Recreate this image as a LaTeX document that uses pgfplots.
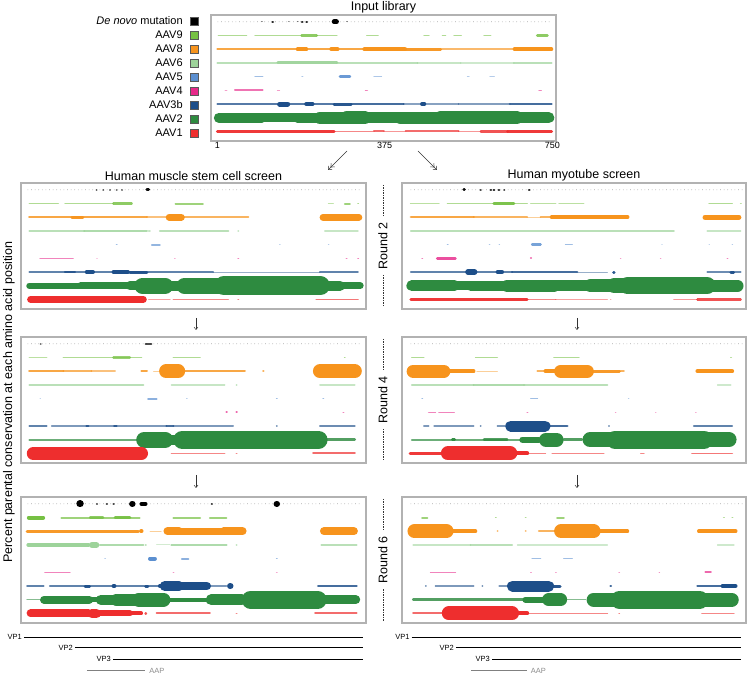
\documentclass[border=0pt]{standalone}
\usepackage{fontspec}
\setmainfont{Liberation Sans}
\usepackage{pgfplots}
\pgfplotsset{compat=1.18}
\usetikzlibrary{arrows.meta}

\definecolor{c9}{HTML}{76C043}
\definecolor{c8}{HTML}{F7941D}
\definecolor{c6}{HTML}{9DD39A}
\definecolor{c5}{HTML}{5B8FD0}
\definecolor{c4}{HTML}{E7298A}
\definecolor{c3}{HTML}{1D4E89}
\definecolor{c2}{HTML}{2E8B40}
\definecolor{c1}{HTML}{EE2E2E}

% rows: 9 de novo, 8 AAV9, 7 AAV8, 6 AAV6, 5 AAV5, 4 AAV4, 3 AAV3b, 2 AAV2, 1 AAV1
% each band row: start end width(pt)
\pgfplotsset{
  panel/.style={scale only axis, width=345pt, height=126pt,
    xmin=-13.5, xmax=758, ymin=0.3, ymax=9.5,
    xtick=\empty, ytick=\empty,
    axis line style={black!30, line width=1.1pt},
    clip=false, point meta min=0, point meta max=20, anchor=north west,
    title style={at={(0.5,1)}, anchor=south, inner sep=0pt, yshift=-4pt,
      font=\fontsize{12.5}{14}\selectfont}},
  rpanel/.style={panel, xmin=-18, xmax=754, width=344pt},
  band/.style={forget plot, line cap=round,
    quiver={u=\thisrowno{1}-\thisrowno{0}, v=0,
      every arrow/.append style={
        /utils/exec={\pgfmathsetmacro\lw{\pgfplotspointmetatransformed/50}%
          \pgfmathsetmacro\lop{min(1,0.2+0.25*\lw)}},
        line width=\lw*1pt, draw opacity=\lop}},
    point meta=\thisrowno{2}},
}
\newcommand\band[3]{\addplot[band,#1] table[header=false, x index=0, y expr=#2, row sep=\\] {#3};}
\newcommand\bgdots{\addplot[forget plot, black!45, line width=0.8pt, line cap=round,
  dash pattern=on 0pt off 3.6pt] coordinates {(2,9) (748,9)};}
\newcommand\vp[4]{\addplot[forget plot, #4, line width=0.9pt] coordinates {(#1,#3) (#2,#3)};}

\begin{document}
\begin{tikzpicture}
\useasboundingbox (0,0) rectangle (748pt,-676pt);

% ---------------- input library
\begin{axis}[panel, at={(211pt,-15pt)}, title={Input library},
  xtick={1,375,750}, xticklabels={1,375,750}, major tick length=0pt,
  xticklabel style={font=\fontsize{9}{10}\selectfont, inner sep=1pt},
  legend style={at={(axis description cs:-0.035,1.006)}, anchor=north east,
    draw=none, fill=none, inner sep=0pt, row sep=0pt, column sep=7pt,
    font=\fontsize{11}{12}\selectfont,
    nodes={inner sep=0pt, text height=10pt, text depth=4pt}},
  legend cell align=right, legend plot pos=right,
  legend image code/.code={\draw[#1, draw=black!65, line width=0.6pt] (0pt,-4pt) rectangle (8.5pt,4pt);}]
\addlegendimage{fill=black}\addlegendentry{\textit{De novo} mutation}
\addlegendimage{fill=c9}\addlegendentry{AAV9}
\addlegendimage{fill=c8}\addlegendentry{AAV8}
\addlegendimage{fill=c6}\addlegendentry{AAV6}
\addlegendimage{fill=c5}\addlegendentry{AAV5}
\addlegendimage{fill=c4}\addlegendentry{AAV4}
\addlegendimage{fill=c3}\addlegendentry{AAV3b}
\addlegendimage{fill=c2}\addlegendentry{AAV2}
\addlegendimage{fill=c1}\addlegendentry{AAV1}
\bgdots
\band{black}{9}{124 125 2.5\\190 191 2.5\\200 201 2.5\\262 267 5\\100 101 1.2\\160 161 1.2\\180 181 1.2\\290 291 1.2\\}
\band{c9}{8}{3 66 1.5\\85 189 1.5\\189 223 2.5\\223 268 1.5\\335 360 1.5\\463 474 1.5\\504 511 1.5\\530 546 1.5\\597 612 1.5\\716 739 2.5\\}
\band{c8}{7}{1 180 2.5\\180 200 3.5\\200 255 2.5\\255 270 3.5\\270 330 2.5\\330 420 4.5\\420 500 3\\500 665 1.8\\665 748 3.5\\}
\band{c6}{6}{1 136 2\\136 268 3\\268 448 2\\448 545 1.5\\545 664 1.2\\664 748 2\\}
\band{c5}{5}{85 102 1.5\\190 192 1.2\\275 297 2.8\\351 368 1.2\\560 564 1\\610 620 1\\}
\band{c4}{4}{18 22 1\\40 102 1.8\\135 140 1\\332 336 1.5\\720 725 1.5\\}
\band{c3}{3}{1 140 2.2\\140 158 5\\158 200 2.2\\200 213 4.5\\213 262 2.2\\262 300 3\\300 417 2.5\\417 540 1.3\\458 464 3.5\\540 655 1.4\\655 748 2.5\\}
\band{c2}{2}{4 100 10\\100 180 9\\180 230 10\\230 290 12\\290 330 13\\330 410 11\\410 500 12\\500 670 13\\670 742 11\\}
\band{c1}{1}{1 262 3\\262 351 1.5\\351 373 2\\373 422 1.2\\422 540 2\\540 590 1.2\\590 650 2.5\\650 748 3\\}
\end{axis}

% ---------------- muscle stem cell, round 2
\begin{axis}[panel, at={(21pt,-183pt)}, title={Human muscle stem cell screen}]
\bgdots
\band{black}{9}{155 156 1.5\\170 171 1.5\\185 186 1.5\\200 201 1.5\\212 213 1.5\\268 272 3\\}
\band{c9}{8}{5 70 1.5\\85 193 1.5\\193 234 2.5\\332 393 2\\674 685 1\\711 722 2\\740 741 1.5\\}
\band{c8}{7}{5 268 2.5\\100 125 3\\268 312 1.5\\318 345 7\\345 495 2\\662 742 7\\}
\band{c6}{6}{5 128 2\\128 268 2.5\\272 275 1.5\\297 450 2\\472 473 1.5\\666 740 1.5\\}
\band{c5}{5}{200 201 1.5\\279 297 1.8\\565 566 1\\674 675 1\\}
\band{c4}{4}{29 103 1.5\\156 157 1\\330 331 1\\472 473 1.5\\714 715 1.5\\740 741 1.5\\}
\band{c3}{3}{5 416 2\\85 107 2.5\\133 148 3.5\\193 226 3.5\\230 268 3\\416 655 1\\655 740 2\\}
\band{c2}{2}{5 120 6\\120 230 7\\230 250 9\\258 309 16\\318 343 10\\352 440 16\\440 656 19\\650 700 10\\700 745 7\\}
\band{c1}{1}{8 260 7\\272 320 1\\327 450 1.5\\472 473 1.5\\647 740 1.8\\}
\end{axis}

% ---------------- myotube, round 2
\begin{axis}[rpanel, at={(402pt,-183pt)}, title={Human myotube screen}]
\bgdots
\band{black}{9}{121 122 3\\158 159 2\\181 182 2.5\\188 189 2.5\\199 200 2.5\\211 212 2\\267 268 2.5\\}
\band{c9}{8}{1 65 1.2\\84 188 1.5\\188 233 3\\233 263 1.5\\271 327 1.2\\334 390 1.2\\671 723 1.5\\742 743 1.5\\}
\band{c8}{7}{2 143 2.5\\143 263 2\\263 293 1\\293 315 2\\318 488 4\\662 738 5\\}
\band{c6}{6}{2 592 2\\667 742 1.5\\}
\band{c5}{5}{84 85 1.5\\178 179 1.2\\200 201 1.2\\274 293 2.5\\349 364 1.5\\565 566 1\\671 672 1\\723 724 1\\}
\band{c4}{4}{27 28 1.5\\61 102 2.5\\271 272 2\\472 473 1\\562 563 1\\712 713 1.5\\}
\band{c3}{3}{2 229 2\\130 145 5.5\\197 206 4.5\\229 375 2.5\\375 443 1\\457 458 3\\667 742 1.8\\720 726 3\\}
\band{c2}{2}{4 100 11\\100 136 9\\136 218 10\\218 323 12\\323 405 11\\405 458 13\\458 488 15\\488 667 17\\667 735 12\\}
\band{c1}{1}{2 263 3\\263 327 1.5\\327 443 1\\450 451 1\\592 645 1.2\\645 742 2.5\\}
\end{axis}

% ---------------- muscle stem cell, round 4
\begin{axis}[panel, at={(21pt,-337pt)}]
\bgdots
\band{black}{9}{30 31 1.5\\265 278 2\\}
\band{c9}{8}{5 44 1.2\\81 256 1.5\\193 230 2.2\\327 387 1.5\\710 711 1.5\\}
\band{c8}{7}{5 81 2.5\\81 144 2\\144 197 1.5\\256 268 2.5\\283 297 1\\311 338 14\\353 487 2.5\\528 529 2\\655 733 14\\}
\band{c6}{6}{5 260 2\\323 442 1.5\\468 469 1.5\\655 733 1.5\\}
\band{c5}{5}{29 30 1\\271 290 2\\357 358 1.2\\558 559 1.5\\662 663 1.5\\}
\band{c4}{4}{446 447 2\\468 469 2\\707 708 1.5\\}
\band{c3}{3}{5 44 2\\55 312 1.5\\133 137 2.5\\195 200 2.5\\312 327 2.5\\327 461 1.5\\558 559 1.5\\655 733 1.8\\}
\band{c2}{2}{5 245 2\\262 309 16\\316 338 10\\347 652 18\\652 733 2.5\\}
\band{c1}{1}{14 256 13\\323 442 1.5\\468 469 1.5\\640 733 2\\}
\end{axis}

% ---------------- myotube, round 4
\begin{axis}[rpanel, at={(402pt,-337pt)}]
\bgdots
\band{c9}{8}{4 31 1.5\\147 196 1.5\\323 379 1.5\\720 721 1.5\\}
\band{c8}{7}{7 76 13\\76 143 3.5\\150 196 1\\286 304 2\\304 330 4\\338 398 13\\398 470 3\\470 480 2\\645 723 4\\}
\band{c6}{6}{4 143 2\\143 256 2.5\\256 443 2\\690 720 1.2\\}
\band{c5}{5}{27 28 1.5\\271 286 1.5\\490 491 1\\}
\band{c4}{4}{42 57 1.5\\65 99 1.5\\263 264 1.5\\461 462 1\\551 552 1\\641 642 1\\}
\band{c3}{3}{31 42 1.5\\54 143 1.5\\158 159 1.5\\196 213 1.5\\226 303 11\\315 353 2.5\\446 447 1.5\\637 723 2\\}
\band{c2}{2}{4 252 2\\95 100 3\\166 218 2.5\\252 289 6\\305 329 14\\345 386 2.5\\404 460 15\\460 660 18\\660 716 15\\}
\band{c1}{1}{0 69 3\\85 225 14\\241 263 4\\263 304 1.5\\319 435 1.5\\518 525 1.5\\633 723 1.8\\}
\end{axis}

% ---------------- muscle stem cell, round 6
\begin{axis}[panel, at={(21pt,-497pt)}]
\bgdots
\band{black}{9}{118 119 7\\235 236 6\\256 265 4\\558 559 6\\156 157 2\\178 179 2\\193 194 2\\413 414 2\\}
\band{c9}{8}{4 36 4\\77 252 2\\141 170 2.5\\197 230 3\\327 387 2\\409 446 2\\}
\band{c8}{7}{0 249 3\\255 256 4\\275 300 1\\314 340 8\\340 440 7\\440 482 8\\664 731 8\\}
\band{c6}{6}{3 137 4\\145 155 6\\163 260 2.5\\265 266 2\\290 319 1\\323 446 2.5\\468 469 1.5\\658 737 2\\}
\band{c5}{5}{174 175 1.2\\275 286 4\\346 361 2\\558 559 1.5\\}
\band{c4}{4}{40 96 1.5\\327 328 1.2\\558 559 1.2\\}
\band{c3}{3}{0 37 2\\51 297 2\\130 140 3\\193 196 3.5\\265 270 3\\297 312 4\\308 340 10\\340 402 8.5\\400 446 1.5\\454 455 6\\651 737 2.5\\}
\band{c2}{2}{0 29 1.5\\38 139 8\\139 165 5\\165 200 10\\200 250 12\\250 305 14\\305 330 4\\330 400 4\\412 480 11\\500 650 18\\650 735 9\\}
\band{c1}{1}{8 137 8\\145 155 9.5\\163 230 6\\230 255 4\\265 266 2.5\\290 409 2\\468 469 1.5\\644 737 2\\}
\vp{-6.8}{751}{-0.72}{black}
\vp{107}{751}{-1.52}{black}
\vp{192}{751}{-2.33}{black}
\vp{134}{264}{-3.2}{black!50}
\node[anchor=east, font=\fontsize{7.5}{8}\selectfont, inner sep=2pt] at (axis cs:-6.8,-0.72) {VP1};
\node[anchor=east, font=\fontsize{7.5}{8}\selectfont, inner sep=2pt] at (axis cs:107,-1.52) {VP2};
\node[anchor=east, font=\fontsize{7.5}{8}\selectfont, inner sep=2pt] at (axis cs:192,-2.33) {VP3};
\node[anchor=west, font=\fontsize{7.5}{8}\selectfont, inner sep=4pt, text=black!45] at (axis cs:264,-3.2) {AAP};
\end{axis}

% ---------------- myotube, round 6
\begin{axis}[rpanel, at={(402pt,-497pt)}]
\bgdots
\band{c9}{8}{27 39 2\\192 193 1.5\\259 260 1.5\\330 345 2\\704 705 1.5\\723 724 1.5\\}
\band{c8}{7}{10 82 14\\82 147 3.5\\196 197 1.5\\259 260 1.5\\289 330 2\\339 412 14\\412 488 3.5\\648 731 3.5\\}
\band{c6}{6}{7 136 1.5\\136 229 2\\241 443 1.2\\690 727 1.2\\}
\band{c5}{5}{274 293 1.5\\345 364 1.5\\}
\band{c4}{4}{46 102 1.5\\271 272 1.2\\327 328 1.2\\469 470 1.2\\559 560 1.2\\663 675 2\\}
\band{c3}{3}{35 36 1.5\\57 143 1.5\\162 163 1.5\\200 218 1.5\\230 311 11\\311 337 3\\450 451 2.5\\645 731 2.5\\701 731 3.5\\}
\band{c2}{2}{7 259 2.5\\259 297 6\\311 338 13\\353 394 1.5\\412 470 14\\470 650 18\\650 722 14\\}
\band{c1}{1}{7 72 2\\87 229 14\\244 263 4\\263 443 1.5\\469 470 1.5\\655 727 1.5\\}
\vp{3.8}{742}{-0.72}{black}
\vp{103}{742}{-1.52}{black}
\vp{184}{742}{-2.33}{black}
\vp{137}{262}{-3.2}{black!50}
\node[anchor=east, font=\fontsize{7.5}{8}\selectfont, inner sep=2pt] at (axis cs:3.8,-0.72) {VP1};
\node[anchor=east, font=\fontsize{7.5}{8}\selectfont, inner sep=2pt] at (axis cs:103,-1.52) {VP2};
\node[anchor=east, font=\fontsize{7.5}{8}\selectfont, inner sep=2pt] at (axis cs:184,-2.33) {VP3};
\node[anchor=west, font=\fontsize{7.5}{8}\selectfont, inner sep=4pt, text=black!45] at (axis cs:262,-3.2) {AAP};
\end{axis}

% ---------------- annotations
\node[rotate=90, font=\fontsize{12.5}{14}\selectfont] at (9pt,-402pt)
  {Percent parental conservation at each amino acid position};
\foreach \yc/\lab in {246/2, 400/4, 560/6}{
  \node[rotate=90, font=\fontsize{12.5}{14}\selectfont] at (383pt,-\yc pt) {Round \lab};
  \draw[black!80, line width=0.5pt, dash pattern=on 1.5pt off 1pt]
    (383pt,-\yc pt+61pt) -- (383pt,-\yc pt+29pt)
    (383pt,-\yc pt-29pt) -- (383pt,-\yc pt-61pt);
}
\draw[black!80, line width=0.5pt, -{Straight Barb[length=3pt,width=5pt]Straight Barb[length=3pt,width=5pt]}]
  (347pt,-151pt) -- (328pt,-170pt);
\draw[black!80, line width=0.5pt, -{Straight Barb[length=3pt,width=5pt]Straight Barb[length=3pt,width=5pt]}]
  (418pt,-151pt) -- (437pt,-170pt);
\foreach \xc in {196, 577}{
  \draw[black!80, line width=0.5pt, -{Straight Barb[length=2.5pt,width=4pt]}] (\xc pt,-318pt) -- (\xc pt,-330pt);
  \draw[black!80, line width=0.5pt, -{Straight Barb[length=2.5pt,width=4pt]}] (\xc pt,-475pt) -- (\xc pt,-488pt);
}
\end{tikzpicture}
\end{document}
